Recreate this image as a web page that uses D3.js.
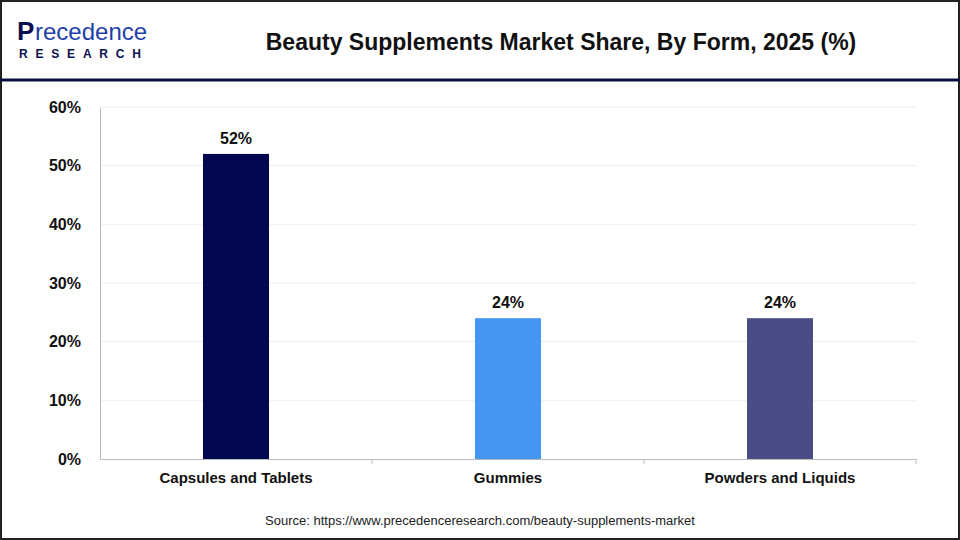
<!DOCTYPE html><html><head><meta charset="utf-8"><script src="https://cdn.jsdelivr.net/npm/d3@7"></script>
<style>body{margin:0;background:#fff}svg{display:block;font-family:Arial,"Liberation Sans",sans-serif}</style></head><body><svg id="c" width="960" height="540"></svg><script>
const categories=["Capsules and Tablets","Gummies","Powders and Liquids"];
const values=[52,24,24];
const colors=["#020650","#4596F3","#4A4C86"];
const yTicks=[0,10,20,30,40,50,60];
const svg=d3.select("#c");
svg.append("rect").attr("x",1).attr("y",1).attr("width",958).attr("height",538).attr("fill","#fff").attr("stroke","#222").attr("stroke-width",2);
svg.append("line").attr("x1",0).attr("x2",960).attr("y1",80).attr("y2",80).attr("stroke","#0a0f3c").attr("stroke-width",3);
const lg=svg.append("g");
lg.append("text").attr("x",17).attr("y",40).attr("font-size",26).attr("fill","#0b1050").attr("font-weight","bold").text("P");
lg.append("text").attr("x",35).attr("y",40).attr("font-size",24).attr("fill","#1e3fa8").text("recedence");
lg.append("text").attr("x",19).attr("y",58).attr("font-size",12).attr("font-weight","bold").attr("fill","#0b1050").attr("letter-spacing","7.8").text("RESEARCH");
svg.append("text").attr("x",561).attr("y",50).attr("text-anchor","middle").attr("font-size",23).attr("font-weight","bold").attr("fill","#111").text("Beauty Supplements Market Share, By Form, 2025 (%)");
const x=d3.scaleBand().domain(categories).range([100,916]);
const y=d3.scaleLinear().domain([0,60]).range([459,107]);
const g=svg.append("g");
g.selectAll(".gl").data(yTicks.slice(1)).join("line").attr("x1",100).attr("x2",916).attr("y1",d=>y(d)).attr("y2",d=>y(d)).attr("stroke","#eee");
const ya=svg.append("g").attr("transform","translate(100,0)").call(d3.axisLeft(y).tickValues(yTicks).tickFormat(d=>d+"%").tickSize(0).tickPadding(19));
ya.select(".domain").attr("stroke","#bbb");ya.selectAll("text").attr("font-size",16).attr("font-weight","bold").attr("fill","#111");
const xa=svg.append("g").attr("transform","translate(0,459)").call(d3.axisBottom(x).tickSize(0).tickPadding(13));
xa.select(".domain").attr("stroke","#bbb");xa.selectAll("text").attr("font-size",15).attr("font-weight","bold").attr("fill","#111");
xa.selectAll(".sep").data([372,644,916]).join("line").attr("x1",d=>d).attr("x2",d=>d).attr("y1",0).attr("y2",5).attr("stroke","#bbb");
svg.selectAll(".bar").data(values).join("rect").attr("x",(d,i)=>x(categories[i])+x.bandwidth()/2-33).attr("width",66).attr("y",d=>y(d)).attr("height",d=>459-y(d)).attr("fill",(d,i)=>colors[i]);
svg.selectAll(".lab").data(values).join("text").attr("x",(d,i)=>x(categories[i])+x.bandwidth()/2).attr("y",d=>y(d)-10).attr("text-anchor","middle").attr("font-size",16).attr("font-weight","bold").attr("fill","#111").text(d=>d+"%");
svg.append("text").attr("x",480).attr("y",525).attr("text-anchor","middle").attr("font-size",13).attr("fill","#222").text("Source: https://www.precedenceresearch.com/beauty-supplements-market");
</script></body></html>
